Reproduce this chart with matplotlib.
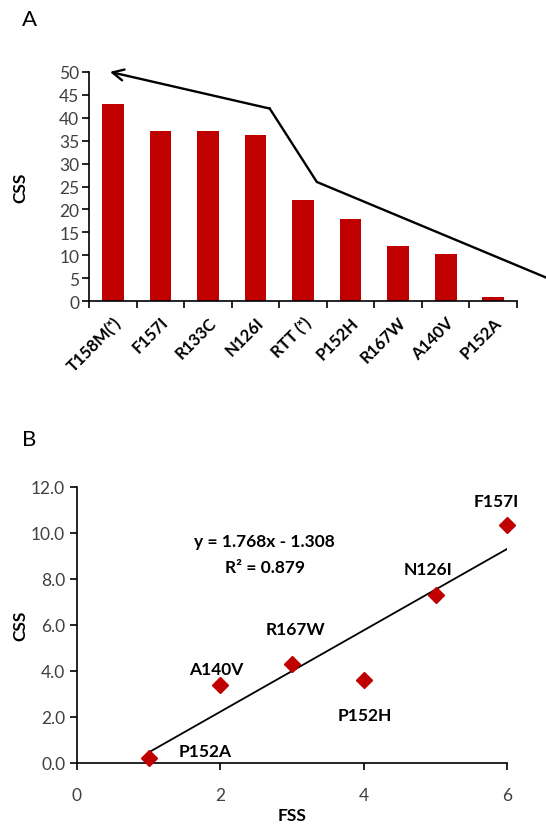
import numpy as np
import matplotlib
matplotlib.use('Agg')
import matplotlib.pyplot as plt
from matplotlib.ticker import FixedLocator

plt.rcParams['font.family'] = ['Lato', 'DejaVu Sans']

# panel A data
mutants = ['T158M(ˣ)', 'F157I', 'R133C', 'N126I', 'RTT (ˣ)', 'P152H', 'R167W', 'A140V', 'P152A']
css_a = [43, 37, 37, 36.2, 22, 18, 12, 10.2, 1]
# trend arrow drawn over the bars (x in category units, y in CSS)
arrow_x = [9.1, 4.29, 3.30, -0.06]
arrow_y = [5.2, 26, 42, 50]

# panel B data
fss = [1, 2, 3, 4, 5, 6]
css_b = [0.2, 3.4, 4.3, 3.6, 7.3, 10.35]
labels_b = ['P152A', 'A140V', 'R167W', 'P152H', 'N126I', 'F157I']
label_x = [1.79, 1.94, 3.04, 4.02, 4.89, 5.85]
label_y = [0.53, 4.1, 5.8, 2.1, 8.43, 11.4]
slope, intercept, r2 = 1.768, -1.308, 0.879

red = '#C00000'
tick_col = '#404040'
fs_tick = 12.5
fs_bold = 12.5

fig = plt.figure(figsize=(5.46, 8.28), dpi=100)

# ---- A ----
ax = fig.add_axes([0.163, 0.635, 0.784, 0.277])
x = np.arange(len(mutants))
ax.bar(x, css_a, width=0.455, color=red, zorder=2)
ax.set_xlim(-0.5, len(mutants) - 0.5)
ax.set_ylim(0, 50)
ax.set_yticks(np.arange(0, 51, 5))
ax.tick_params(axis='y', labelsize=fs_tick, colors='black', labelcolor=tick_col, length=5, width=1.2, pad=2)
ax.set_xticks(x)
ax.set_xticklabels(mutants, rotation=45, ha='right', rotation_mode='anchor',
                   fontsize=12, fontweight='bold')
ax.tick_params(axis='x', length=0, pad=9)
ax.xaxis.set_minor_locator(FixedLocator(np.arange(-0.5, len(mutants), 1)))
ax.tick_params(axis='x', which='minor', length=5, width=1.2)
for s in ['top', 'right']:
    ax.spines[s].set_visible(False)
for s in ['left', 'bottom']:
    ax.spines[s].set_linewidth(1.2)
ax.set_ylabel('CSS', fontsize=fs_bold, fontweight='bold', labelpad=22)

ax.plot(arrow_x[:3], arrow_y[:3], color='black', lw=1.7, clip_on=False, zorder=3)
ax.annotate('', xy=(arrow_x[3], arrow_y[3]), xytext=(arrow_x[2], arrow_y[2]),
            arrowprops=dict(arrowstyle='->', color='black', lw=1.7,
                            mutation_scale=20, shrinkA=0, shrinkB=0),
            annotation_clip=False, zorder=3)
fig.text(0.04, 0.976, 'A', fontsize=16, va='center')

# ---- B ----
bx = fig.add_axes([0.141, 0.0773, 0.788, 0.3337])
bx.plot(fss, css_b, 'D', color=red, markersize=8.5, zorder=3, clip_on=False)
fx = np.array([min(fss), max(fss)])
bx.plot(fx, slope * fx + intercept, color='black', lw=1.3, zorder=2)
for lx, ly, t in zip(label_x, label_y, labels_b):
    bx.text(lx, ly, t, fontsize=fs_bold, fontweight='bold', ha='center', va='center', clip_on=False)
bx.text(2.62, 9.66, f'y = {slope}x - {abs(intercept)}', fontsize=fs_bold, fontweight='bold',
        ha='center', va='center')
bx.text(2.62, 8.53, f'R² = {r2}', fontsize=fs_bold, fontweight='bold', ha='center', va='center')
bx.set_xlim(0, 6)
bx.set_ylim(0, 12)
bx.set_xticks([0, 2, 4, 6])
bx.set_yticks(np.arange(0, 12.1, 2))
bx.set_yticklabels([f'{v:.1f}' for v in np.arange(0, 12.1, 2)])
bx.tick_params(labelsize=fs_tick, labelcolor=tick_col, length=5, width=1.2)
bx.tick_params(axis='x', pad=12)
for s in ['top', 'right']:
    bx.spines[s].set_visible(False)
for s in ['left', 'bottom']:
    bx.spines[s].set_linewidth(1.2)
bx.set_xlabel('FSS', fontsize=fs_bold, fontweight='bold', labelpad=3)
bx.set_ylabel('CSS', fontsize=fs_bold, fontweight='bold', labelpad=2)
fig.text(0.04, 0.468, 'B', fontsize=16, va='center')

fig.savefig('out.png', dpi=100)
